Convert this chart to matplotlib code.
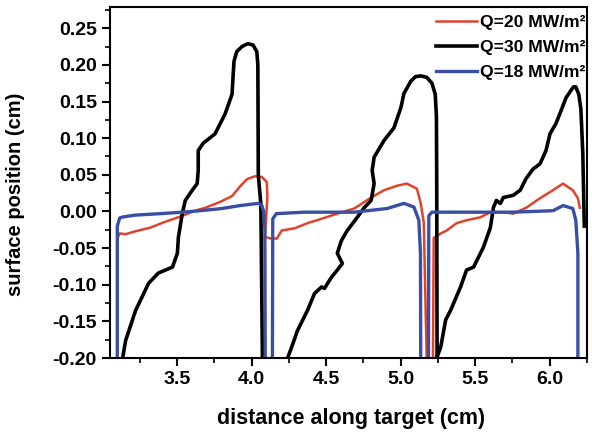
import matplotlib
matplotlib.use("Agg")
import matplotlib.pyplot as plt
from matplotlib.ticker import MultipleLocator, FormatStrFormatter

plt.rcParams['font.family'] = ['Liberation Sans', 'DejaVu Sans']
plt.rcParams['font.weight'] = 'bold'

# Q = 20 MW/m2 (red), three target segments joined
red_x = [3.102, 3.115, 3.155, 3.222, 3.322, 3.422, 3.522, 3.622, 3.689, 3.789,
         3.869, 3.922, 3.969, 4.022, 4.069, 4.102, 4.106, 4.097, 4.090, 4.130,
         4.169, 4.202, 4.289, 4.375, 4.469, 4.575, 4.689, 4.802, 4.889, 4.975,
         5.042, 5.109, 5.135, 5.155, 5.180, 5.215, 5.222, 5.269, 5.309, 5.375,
         5.442, 5.535, 5.602, 5.689, 5.755, 5.842, 5.935, 6.022, 6.089, 6.155,
         6.189, 6.202]
red_y = [-0.036, -0.030, -0.031, -0.027, -0.022, -0.014, -0.007, 0.001, 0.005, 0.013,
         0.021, 0.034, 0.044, 0.048, 0.047, 0.040, 0.020, -0.010, -0.035, -0.037,
         -0.037, -0.026, -0.023, -0.016, -0.010, -0.003, 0.004, 0.019, 0.029, 0.035,
         0.038, 0.031, 0.011, -0.015, -0.25, -0.25, -0.036, -0.030, -0.026, -0.016,
         -0.012, -0.008, -0.001, -0.001, -0.003, 0.005, 0.018, 0.029, 0.038, 0.029,
         0.018, 0.005]

# Q = 30 MW/m2 (black)
black_x = [3.135, 3.135, 3.155, 3.222, 3.255, 3.309, 3.375, 3.469, 3.502, 3.509,
           3.535, 3.555, 3.602, 3.635, 3.642, 3.642, 3.675, 3.755, 3.822, 3.869,
           3.875, 3.882, 3.900, 3.935, 3.975, 4.010, 4.035, 4.042, 4.045, 4.062, 4.075,
           4.238, 4.242, 4.269, 4.309, 4.375, 4.422, 4.469, 4.489, 4.535, 4.575,
           4.609, 4.575, 4.602, 4.642, 4.709, 4.755, 4.802, 4.822, 4.809, 4.822,
           4.889, 4.955, 5.002, 5.022, 5.069, 5.100, 5.135, 5.175, 5.210, 5.232, 5.240,
           5.242, 5.245, 5.240, 5.242, 5.269, 5.302, 5.335, 5.402, 5.442, 5.489, 5.555,
           5.602, 5.622, 5.642, 5.669, 5.689, 5.755, 5.802, 5.842, 5.889, 5.935,
           5.975, 6.002, 6.042, 6.075, 6.109, 6.142, 6.160, 6.175, 6.195, 6.209, 6.222,
           6.230, 6.232]
black_y = [-0.25, -0.200, -0.176, -0.135, -0.121, -0.098, -0.084, -0.076, -0.057, -0.035,
           -0.003, 0.015, 0.029, 0.038, 0.056, 0.083, 0.093, 0.106, 0.133, 0.160,
           0.182, 0.205, 0.218, 0.225, 0.229, 0.227, 0.218, 0.200, 0.050, 0.010, -0.25,
           -0.25, -0.200, -0.185, -0.162, -0.135, -0.112, -0.103, -0.105, -0.090, -0.080,
           -0.071, -0.057, -0.040, -0.026, -0.008, 0.005, 0.015, 0.038, 0.056, 0.074,
           0.097, 0.114, 0.142, 0.161, 0.178, 0.184, 0.185, 0.183, 0.175, 0.160, 0.130,
           0.042, -0.25, -0.25, -0.200, -0.185, -0.148, -0.135, -0.103, -0.080, -0.076, -0.049,
           -0.022, 0.005, 0.015, 0.011, 0.019, 0.022, 0.029, 0.045, 0.058, 0.065,
           0.083, 0.106, 0.120, 0.137, 0.155, 0.165, 0.170, 0.170, 0.160, 0.140, 0.080,
           0.000, -0.020]

# Q = 18 MW/m2 (blue)
blue_x = [3.099, 3.099, 3.115, 3.135, 3.222, 3.389, 3.535, 3.655, 3.802, 3.922,
          4.002, 4.049, 4.069, 4.082, 4.089, 4.092,
          4.139, 4.142, 4.166, 4.355, 4.689, 4.909, 5.022, 5.089, 5.122, 5.133, 5.135,
          5.186, 5.189, 5.209, 5.422, 5.755, 6.022, 6.089, 6.155, 6.175, 6.189, 6.189]
blue_y = [-0.25, -0.020, -0.009, -0.0075, -0.005, -0.003, -0.001, 0.001, 0.004, 0.008,
          0.010, 0.011, 0.008, -0.001, -0.025, -0.25,
          -0.25, -0.010, -0.003, -0.001, -0.001, 0.004, 0.011, 0.006, -0.012, -0.057, -0.25,
          -0.25, -0.006, -0.001, -0.001, -0.001, 0.001, 0.008, 0.004, -0.012, -0.057, -0.25]

labels = ['Q=20 MW/m²', 'Q=30 MW/m²', 'Q=18 MW/m²']

fig = plt.figure(figsize=(5.92, 4.34), dpi=100)
ax = fig.add_axes([0.1858, 0.1751, 0.8057, 0.8088])

ax.plot(red_x, red_y, color='#e0432c', lw=1.8, label=labels[0], solid_joinstyle='round')
ax.plot(black_x, black_y, color='black', lw=2.6, label=labels[1], solid_joinstyle='round')
ax.plot(blue_x, blue_y, color='#3a4ea6', lw=2.4, label=labels[2], solid_joinstyle='round')

ax.set_xlim(3.05, 6.25)
ax.set_ylim(-0.20, 0.279)

ax.xaxis.set_major_locator(MultipleLocator(0.5))
ax.xaxis.set_minor_locator(MultipleLocator(0.25))
ax.yaxis.set_major_locator(MultipleLocator(0.05))
ax.yaxis.set_minor_locator(MultipleLocator(0.025))
ax.xaxis.set_major_formatter(FormatStrFormatter('%.1f'))
ax.yaxis.set_major_formatter(FormatStrFormatter('%.2f'))

ax.tick_params(which='major', direction='out', length=6, width=1.5, labelsize=14)
ax.tick_params(which='minor', direction='out', length=3.5, width=1.2)
for s in ax.spines.values():
    s.set_linewidth(1.5)

ax.set_xlabel('distance along target (cm)', fontsize=15.5, fontweight='bold')
ax.set_ylabel('surface position (cm)', fontsize=14.5, fontweight='bold')
ax.xaxis.set_label_coords(0.505, -0.142)
ax.yaxis.set_label_coords(-0.178, 0.465)

ax.legend(loc='upper right', bbox_to_anchor=(0.997, 0.977), frameon=False,
          fontsize=12.6, handlelength=2.3, handletextpad=0.2, labelspacing=0.55,
          borderpad=0, borderaxespad=0)

fig.savefig('out.png', dpi=100)
